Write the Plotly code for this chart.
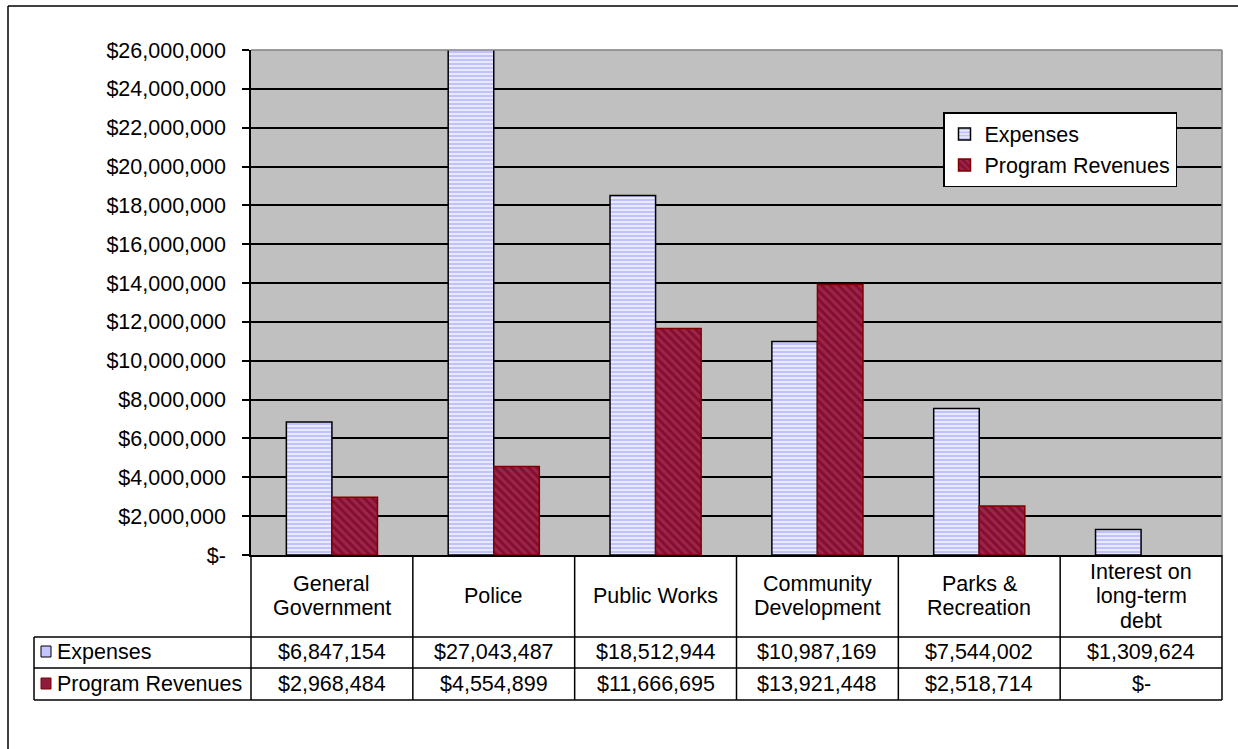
import plotly.graph_objects as go

# ---------------- data ----------------
categories = ["General<br>Government", "Police", "Public Works",
              "Community<br>Development", "Parks &<br>Recreation",
              "Interest on<br>long-term<br>debt"]
expenses = [6847154, 27043487, 18512944, 10987169, 7544002, 1309624]
revenues = [2968484, 4554899, 11666695, 13921448, 2518714, 0]
series_names = ["Expenses", "Program Revenues"]
y_tick_vals = [0, 2000000, 4000000, 6000000, 8000000, 10000000, 12000000,
               14000000, 16000000, 18000000, 20000000, 22000000, 24000000, 26000000]
y_tick_text = ["$-", "$2,000,000", "$4,000,000", "$6,000,000", "$8,000,000",
               "$10,000,000", "$12,000,000", "$14,000,000", "$16,000,000",
               "$18,000,000", "$20,000,000", "$22,000,000", "$24,000,000",
               "$26,000,000"]


def money(v):
    return "$-" if v == 0 else "${:,}".format(v)


# ---------------- layout geometry ----------------
W, H = 1238, 749
L, R, T, B = 251, 16, 50, 194
PW = W - L - R
PH = H - T - B
FONT = "Liberation Sans, Arial, sans-serif"
FS = 21.5


def px(xp):
    return (xp - L) / PW


def py(yp):
    return (T + PH - yp) / PH


fig = go.Figure()
fig.add_trace(go.Bar(
    x=categories, y=[v if v else None for v in expenses], name=series_names[0],
    marker=dict(color="#E8E8FF", line=dict(color="black", width=1.5),
                pattern=dict(shape="-", fgcolor="#9999FF", size=4, solidity=0.5)),
))
fig.add_trace(go.Bar(
    x=categories, y=[v if v else None for v in revenues], name=series_names[1],
    marker=dict(color="#880C2C", line=dict(color="#800000", width=1.5),
                pattern=dict(shape="\\", fgcolor="#A8406E", size=6, solidity=0.5)),
))

shapes = []
line_k = dict(color="black", width=1.5)
# outer chart border (left and top)
shapes.append(dict(type="line", xref="paper", yref="paper",
                   x0=px(8), x1=px(W + 5), y0=py(6), y1=py(6), line=line_k))
shapes.append(dict(type="line", xref="paper", yref="paper",
                   x0=px(8), x1=px(8), y0=py(6), y1=py(H + 5), line=line_k))
# plot area grey frame (top/right)
shapes.append(dict(type="line", xref="paper", yref="paper",
                   x0=0, x1=1, y0=1, y1=1, line=dict(color="#808080", width=1.5)))
shapes.append(dict(type="line", xref="paper", yref="paper",
                   x0=1, x1=1, y0=0, y1=1, line=dict(color="#808080", width=1.5)))

# data table grid
n = len(categories)
row_top, row1, row2 = 637, 668, 700
for k in range(n + 1):
    shapes.append(dict(type="line", xref="paper", yref="paper",
                       x0=k / n, x1=k / n, y0=0, y1=py(row2), line=line_k))
shapes.append(dict(type="line", xref="paper", yref="paper",
                   x0=px(34), x1=px(34), y0=py(row_top), y1=py(row2), line=line_k))
for yy in (row_top, row1, row2):
    shapes.append(dict(type="line", xref="paper", yref="paper",
                       x0=px(34), x1=1, y0=py(yy), y1=py(yy), line=line_k))
# legend keys in table
shapes.append(dict(type="rect", xref="paper", yref="paper",
                   x0=px(41), x1=px(51), y0=py(646), y1=py(657),
                   fillcolor="#C4C4FF", line=dict(color="black", width=1)))
shapes.append(dict(type="rect", xref="paper", yref="paper",
                   x0=px(41), x1=px(51), y0=py(678), y1=py(689),
                   fillcolor="#8E1A3E", line=dict(color="#800000", width=1)))

annotations = []
font = dict(family=FONT, size=FS, color="black")
pitch = 24.5
for cat in categories:
    parts = cat.split("<br>")
    m = len(parts)
    for j, part in enumerate(parts):
        yc = 596 + (j - (m - 1) / 2) * pitch
        annotations.append(dict(x=cat, xref="x", y=py(yc), yref="paper",
                                text=part, showarrow=False, font=font,
                                xanchor="center", yanchor="middle"))
    i = categories.index(cat)
    annotations.append(dict(x=cat, xref="x", y=py(652), yref="paper",
                            text=money(expenses[i]), showarrow=False, font=font,
                            xanchor="center", yanchor="middle"))
    annotations.append(dict(x=cat, xref="x", y=py(684), yref="paper",
                            text=money(revenues[i]), showarrow=False, font=font,
                            xanchor="center", yanchor="middle"))
annotations.append(dict(x=px(55), xref="paper", y=py(652), yref="paper",
                        text=series_names[0], showarrow=False, font=font,
                        xanchor="left", yanchor="middle"))
annotations.append(dict(x=px(55), xref="paper", y=py(684), yref="paper",
                        text=series_names[1], showarrow=False, font=font,
                        xanchor="left", yanchor="middle"))

fig.update_layout(
    width=W, height=H,
    margin=dict(l=L, r=R, t=T, b=B, pad=0),
    paper_bgcolor="white", plot_bgcolor="#C0C0C0",
    font=font,
    barmode="group", bargap=0.437, bargroupgap=0,
    showlegend=True,
    legend=dict(x=px(943), y=py(112), xanchor="left", yanchor="top",
                bgcolor="white", bordercolor="black", borderwidth=1.5,
                font=font, tracegroupgap=0, itemwidth=30),
    shapes=shapes, annotations=annotations,
    xaxis=dict(showticklabels=False, ticks="", showgrid=False, zeroline=False,
               showline=True, linecolor="black", linewidth=1.5,
               range=[-0.5, n - 0.5], fixedrange=True),
    yaxis=dict(range=[0, 26000000], tickvals=y_tick_vals, ticktext=y_tick_text,
               showgrid=True, gridcolor="black", gridwidth=1.5, zeroline=False,
               showline=True, linecolor="black", linewidth=1.5,
               ticks="outside", ticklen=7, tickcolor="black", tickwidth=1.5,
               ticklabelstandoff=12, tickfont=font, fixedrange=True),
)

fig.write_html("out.html", config={"displayModeBar": False})
